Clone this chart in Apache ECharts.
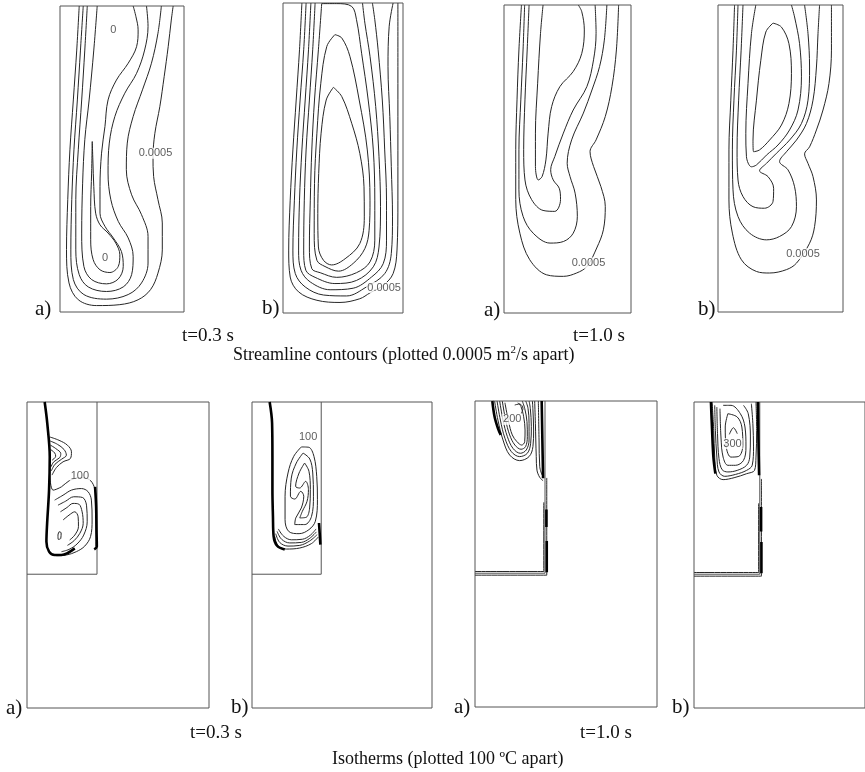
<!DOCTYPE html>
<html><head><meta charset="utf-8">
<script src="https://cdn.jsdelivr.net/npm/echarts/dist/echarts.min.js"></script>
<style>html,body{margin:0;padding:0;background:#fff}#c{width:865px;height:772px}</style>
</head><body><div id="c"></div>
<script>
// Coordinates: [x (mm from left wall), depth (mm from top)]
// ---------- Streamline contours ----------
const psiA03 = [
 [[6.2,0],[5.4,14.4],[4.3,30.7],[3.2,47.0],[2.5,63.3],[2.1,79.6],[2.9,90.5],[5.9,96.0],[11.8,97.9],[19.3,97.6],[25.2,96.0],[29.2,92.7],[31.6,87.3],[33.0,79.7],[33.0,70.9],[31.6,63.3],[30.2,55.7],[30.0,49.2],[30.6,41.6],[32.2,32.9],[33.6,23.1],[34.9,13.3],[35.9,4.6],[36.5,0]],
 [[7.5,0],[6.6,14.4],[5.6,30.7],[4.5,47.0],[3.8,63.3],[3.5,79.7],[4.3,89.4],[7.7,94.3],[15.0,95.8],[22.0,94.3],[26.3,90.5],[28.4,84.0],[28.4,75.3],[26.3,68.2],[23.1,61.7],[21.4,53.5],[21.7,44.8],[23.6,36.1],[26.6,27.4],[29.5,18.7],[31.6,8.9],[32.7,0]],
 [[8.8,0],[8.0,14.4],[7.0,30.7],[5.9,47.0],[5.1,63.3],[5.1,79.7],[6.2,87.8],[9.1,91.8],[15.0,93.3],[20.4,91.8],[23.1,87.8],[23.6,81.8],[22.0,75.8],[18.8,70.4],[16.4,63.3],[15.5,54.6],[15.9,44.8],[17.7,36.1],[20.9,28.5],[24.7,22.0],[27.3,14.4],[28.4,6.7],[27.9,0]],
 [[12.0,0],[10.9,14.4],[9.4,30.7],[8.0,43.7],[7.3,57.9],[7.0,74.2],[7.7,85.1],[10.2,89.4],[15.0,90.8],[18.8,89.2],[20.4,85.1],[19.8,80.2],[17.2,75.8],[14.5,72.0],[12.9,67.7],[12.9,59.0],[13.4,48.1],[14.5,39.4],[15.5,30.7],[18.2,24.2],[22.0,18.7],[24.7,13.3],[25.2,7.8],[24.5,3.5],[23.6,0]],
 [[10.4,44.3],[10.2,54.6],[9.9,65.5],[9.9,76.4],[10.7,82.9],[12.9,86.2],[16.1,87.1],[18.8,85.1],[19.3,81.3],[18.0,77.5],[15.5,74.2],[12.9,71.5],[11.5,67.7],[10.9,59.0],[10.6,50.3],[10.4,44.3]]
];
const psiA03Labels = [[30.8,48.1,'0.0005'],[17.2,7.8,'0'],[14.5,82.4,'0']];

const psiB03 = [
 [[6.3,0],[5.5,15.1],[4.4,31.3],[3.3,47.4],[2.4,63.6],[1.9,79.7],[2.4,88.4],[5.2,93.2],[11.3,95.9],[19.0,96.6],[25.6,95.4],[29.0,93.5],[33.4,91.1],[36.7,87.3],[38.0,79.7],[38.3,63.6],[38.3,42.0],[38.3,20.5],[38.3,0]],
 [[7.7,0],[6.9,15.1],[5.7,31.3],[4.6,47.4],[3.8,63.6],[3.3,79.7],[4.1,87.3],[7.4,91.6],[13.5,94.2],[21.2,94.5],[27.8,91.6],[33.9,87.3],[36.1,80.8],[36.5,69.0],[36.1,52.8],[35.6,36.6],[35.0,20.5],[35.4,7.5],[36.7,0]],
 [[9.3,0],[8.5,15.1],[7.4,31.3],[6.3,47.4],[5.5,63.6],[5.2,79.7],[6.0,86.2],[9.1,90.0],[15.7,92.5],[23.4,92.0],[29.5,88.4],[33.4,84.1],[34.5,76.5],[34.5,63.6],[33.9,47.4],[33.1,31.3],[31.7,15.1],[30.6,5.4],[29.8,0]],
 [[10.7,0],[9.9,15.1],[8.8,31.3],[7.7,47.4],[7.1,63.6],[6.9,79.7],[7.6,86.2],[10.7,88.5],[17.3,90.5],[24.5,89.5],[30.1,85.1],[32.0,78.7],[32.5,65.7],[32.0,49.6],[30.9,33.4],[29.0,17.2],[27.3,6.5],[26.5,0]],
 [[12.9,0.2],[11.8,15.1],[10.5,31.3],[9.6,47.4],[9.1,63.6],[8.8,78.7],[9.6,85.7],[12.4,87.0],[17.9,88.5],[24.5,87.0],[29.0,83.5],[30.6,76.5],[30.6,63.6],[30.1,47.4],[28.4,31.3],[26.2,16.2],[24.5,5.4],[22.9,1.1],[17.9,0.2],[12.9,0.2]],
 [[17.3,10.2],[14.6,14.0],[12.6,25.9],[11.3,42.0],[10.5,58.2],[10.4,74.4],[11.3,83.0],[14.0,85.0],[18.5,86.5],[23.4,84.0],[27.3,79.2],[28.7,73.3],[29.0,63.6],[28.1,47.4],[25.4,31.3],[22.3,17.2],[19.6,11.3],[17.3,10.2]],
 [[16.8,27.2],[14.4,31.3],[12.7,42.0],[11.9,55.0],[11.6,67.9],[11.8,78.7],[13.5,83.0],[16.2,84.5],[20.7,82.5],[25.6,77.6],[27.1,69.0],[27.0,59.3],[25.6,48.5],[22.9,38.8],[19.6,30.2],[16.8,27.2]]
];
const psiB03Labels = [[33.7,91.8,'0.0005']];

const psiA10 = [
 [[5.5,0],[4.7,14.6],[4.1,30.8],[3.7,47.0],[3.7,63.2],[5.0,74.1],[8.1,82.7],[13.4,87.6],[18.7,88.1],[22.9,87.0],[26.1,84.9],[29.2,78.9],[31.3,73.0],[31.9,65.4],[30.5,58.9],[28.2,52.4],[27.1,47.6],[29.0,43.8],[31.9,36.2],[34.0,26.5],[35.4,14.6],[36.1,0]],
 [[6.5,0],[6.0,14.6],[5.3,30.8],[4.7,47.0],[4.7,60.0],[6.0,68.6],[9.2,74.1],[14.5,77.3],[18.7,76.8],[21.8,74.1],[23.1,68.6],[22.4,61.1],[20.8,55.7],[19.9,51.4],[21.3,43.8],[25.0,35.1],[27.7,27.6],[30.1,20.0],[31.6,11.4],[32.4,0]],
 [[7.9,0],[7.3,14.6],[6.6,30.8],[6.2,47.0],[6.6,56.8],[8.7,63.2],[12.3,66.7],[16.0,67.0],[17.8,63.2],[17.4,59.5],[15.5,56.8],[14.7,53.5],[16.0,49.2],[18.7,41.6],[21.8,34.1],[26.1,26.5],[28.2,17.8],[29.0,9.2],[28.7,0]],
 [[12.3,0],[11.5,9.2],[10.6,25.4],[9.9,41.6],[9.9,52.4],[10.8,56.8],[12.0,55.7],[13.2,50.3],[13.9,41.6],[15.0,33.0],[17.6,26.5],[21.8,21.6],[24.5,15.7],[25.3,8.1],[24.5,2.2],[23.4,0]]
];
const psiA10Labels = [[26.6,83.8,'0.0005']];

const psiB10 = [
 [[5.3,0],[4.8,14.7],[4.1,31.0],[3.5,47.2],[3.5,63.5],[4.6,74.3],[7.5,83.0],[12.3,86.8],[16.5,87.3],[21.9,86.2],[25.1,84.1],[29.3,77.6],[30.9,72.2],[31.5,63.5],[30.4,55.9],[28.8,51.6],[27.7,48.5],[29.3,46.2],[31.5,40.7],[33.6,34.2],[35.5,25.6],[36.3,14.7],[36.3,0]],
 [[6.4,0],[5.9,14.7],[5.1,31.0],[4.6,47.2],[4.8,60.2],[6.4,68.9],[10.1,74.3],[15.5,76.5],[19.7,75.4],[23.5,72.2],[25.1,65.7],[24.5,59.2],[22.4,53.7],[19.7,51.0],[21.9,47.8],[25.1,44.0],[28.3,38.6],[30.4,31.0],[31.5,20.2],[32.0,9.3],[32.5,0]],
 [[8.0,0],[7.4,14.7],[6.6,31.0],[6.1,47.2],[6.4,57.0],[8.0,62.4],[11.2,65.7],[14.9,66.2],[17.6,64.0],[17.8,59.7],[16.0,55.9],[13.3,54.0],[15.5,51.6],[18.7,48.3],[22.9,44.0],[26.7,38.6],[28.8,31.0],[29.3,20.2],[28.8,9.3],[27.7,0]],
 [[12.1,0],[10.7,9.3],[9.6,25.6],[8.9,41.8],[9.1,49.4],[10.7,52.7],[12.3,52.1],[15.5,48.9],[19.2,45.6],[22.9,40.7],[25.6,34.2],[26.7,23.4],[26.1,12.6],[24.5,3.9],[23.5,0]],
 [[17.6,5.9],[15.3,8.8],[13.7,18.0],[12.3,31.0],[11.2,44.0],[11.4,47.8],[13.3,47.2],[16.5,44.0],[20.3,39.1],[22.7,32.1],[23.5,22.3],[22.7,12.6],[20.3,7.2],[17.6,5.9]]
];
const psiB10Labels = [[27.2,81.0,'0.0005']];

// ---------- Isotherms (mould 104 x 175 mm, casting cavity 40 mm wide) ----------
const cavityOutline = [[40,0],[40,98.5],[0,98.5]];

const isoA03 = [
 [[13.0,20.0],[18.3,21.9],[23.1,24.7],[25.4,28.5],[24.8,32.3],[20.6,34.2],[16.8,37.5],[14.3,41.8]],
 [[13.2,22.3],[17.4,24.2],[21.2,27.2],[22.5,30.4],[19.8,32.7],[16.0,35.6],[13.9,39.4]],
 [[13.4,24.7],[16.4,26.6],[19.3,29.5],[18.7,31.8],[15.3,34.2],[13.7,37.1]],
 [[13.5,27.2],[15.8,29.1],[16.4,31.0],[14.3,33.3]],
 [[13.0,42.0],[14.9,50.4],[19.7,48.5],[24.0,45.1],[30.2,43.2],[35.5,44.3],[38.4,48.5],[39.5,56.1],[39.5,69.4],[39.4,82.7]],
 [[15.8,56.1],[20.6,53.3],[25.4,50.4],[31.1,49.5],[34.9,51.3],[36.8,56.1],[37.2,67.5],[36.3,77.0],[33.0,82.4],[28.2,85.6],[22.5,87.5],[16.8,87.9]],
 [[17.7,59.0],[22.1,56.7],[26.7,54.2],[31.7,54.6],[34.0,59.0],[34.4,68.5],[32.4,76.1],[28.6,81.2],[24.0,84.3],[19.7,85.6]],
 [[19.1,62.8],[22.9,60.3],[26.3,58.0],[29.6,58.4],[31.5,62.8],[32.1,69.4],[30.2,75.1],[26.9,79.3],[23.1,82.0]],
 [[20.6,67.5],[24.0,64.7],[27.3,62.8],[29.2,65.6],[29.4,71.3],[27.3,76.1],[24.4,78.9]],
 [[18.3,74.2],[19.5,74.8],[19.3,78.0],[17.9,78.6],[17.7,76.1],[18.3,74.2]]
];
const isoA03Thick = [
 [[10.1,0],[11.6,12.4],[13.0,31.4],[12.6,50.4],[11.5,69.4],[11.1,79.9],[12.6,85.6],[15.8,87.5],[19.7,87.5],[23.5,86.2],[27.3,83.7]],
 [[38.9,48.5],[39.5,59.9],[39.7,73.2],[39.9,82.7],[38.4,84.3]]
];
const isoA03Labels = [[30.2,42.4,'100']];

const isoB03 = [
 [[28.5,25.7],[24.1,31.1],[20.8,40.6],[19.1,53.9],[19.1,67.3],[21.2,74.0],[27.2,75.3],[32.9,73.0],[36.6,68.2],[37.8,55.9],[37.4,42.5],[35.8,31.1],[32.8,25.9],[28.5,25.7]],
 [[29.5,29.2],[25.6,34.9],[22.7,43.5],[22.2,53.9],[24.7,55.5],[28.2,51.1],[29.9,53.9],[28.5,60.6],[25.3,66.3],[24.7,70.1],[30.5,70.1],[34.4,65.4],[35.5,53.9],[35.1,40.6],[33.4,32.6],[29.5,29.2]],
 [[30.4,34.9],[27.2,40.6],[25.2,48.2],[27.5,49.2],[31.0,45.4],[32.6,50.1],[31.8,56.8],[29.1,62.5],[27.6,66.3],[31.4,65.9],[33.3,60.6],[33.7,50.1],[32.9,39.6],[30.4,34.9]],
 [[13.1,76.8],[15.0,82.2],[19.8,84.1],[27.6,83.5],[34.3,81.0],[38.3,77.2]],
 [[13.7,75.3],[16.0,80.3],[20.8,82.4],[27.6,82.0],[33.3,79.5],[37.6,75.9]],
 [[14.5,74.0],[17.1,78.5],[21.8,80.6],[28.5,80.3],[33.3,78.0],[37.2,74.3]],
 [[15.2,72.6],[18.3,76.8],[22.7,78.8],[29.1,78.5],[33.7,76.2],[37.0,72.6]]
];
const isoB03Thick = [
 [[10.2,0],[11.6,12.0],[11.8,31.1],[11.8,50.1],[12.1,65.3],[12.5,76.8],[14.5,82.2],[18.9,84.4]],
 [[38.7,69.2],[39.1,74.9],[39.5,81.6]]
];
const isoB03Labels = [[32.4,20.0,'100']];

const isoA10 = [
 [[11.2,0],[13.1,10.9],[16.0,22.3],[19.8,30.9],[25.5,34.1],[30.9,31.8],[33.1,26.1],[33.5,16.6],[33.1,5.1],[32.8,0]],
 [[12.6,0],[14.5,10.9],[17.1,21.3],[20.8,29.0],[25.5,31.8],[29.9,29.9],[31.8,24.2],[32.2,14.7],[31.6,4.2],[30.9,0]],
 [[14.1,0],[16.0,10.9],[18.5,20.4],[21.7,27.1],[25.9,29.9],[29.3,28.0],[30.9,22.3],[30.9,12.8],[30.3,4.2],[29.0,0]],
 [[15.6,0],[17.5,10.9],[19.8,19.4],[22.8,25.2],[26.3,27.6],[28.9,26.1],[29.9,20.4],[29.7,11.8],[28.4,4.2],[27.0,0]],
 [[17.1,1.0],[19.2,11.8],[21.3,19.4],[24.0,23.3],[26.7,25.2],[28.4,23.3],[28.6,16.6],[27.8,9.0],[26.3,3.2],[24.6,1.0]],
 [[22.7,2.3],[25.5,1.7],[27.4,4.2],[26.5,7.1]],
 [[34.1,0],[34.5,12.8],[35.0,31.8],[35.4,39.5],[37.0,43.7],[38.9,45.6]],
 [[36.2,0],[36.6,22.3],[37.0,37.6],[38.3,42.3]],
 [[41.0,44],[41.0,99.6],[0,99.6]],
 [[39.3,58],[39.3,97.5],[0,97.5]]
];
const isoA10Thick = [
 [[9.9,0],[11.2,9.0],[13.1,15.6],[14.7,19.4]],
 [[38.1,0],[38.5,22.3],[38.9,44.2]],
 [[40.8,62],[40.8,72]],
 [[41.0,80],[41.0,98]]
];
const isoA10Labels = [[21.3,10.5,'200']];

const isoB10 = [
 [[11.0,0],[12.0,16.2],[12.6,31.5],[13.9,41.9],[17.7,44.4],[24.4,43.3],[32.0,41.0],[36.8,39.1],[37.7,31.5],[38.1,16.2],[37.7,0]],
 [[12.6,1.9],[13.0,16.2],[13.9,31.5],[15.2,40.0],[18.7,42.5],[25.3,41.4],[32.0,39.1],[35.4,36.2],[36.2,25.7],[35.8,12.4],[34.9,1.0]],
 [[13.9,2.9],[14.3,18.1],[15.2,32.4],[17.1,38.7],[20.6,40.0],[26.3,39.1],[32.0,36.2],[33.9,31.5],[34.3,20.0],[33.0,6.7],[30.1,1.9]],
 [[15.8,3.8],[16.4,20.0],[17.7,31.5],[20.6,36.2],[25.3,36.2],[30.1,33.4],[31.6,25.7],[31.0,14.3],[28.2,6.7],[22.5,1.9],[17.7,1.9]],
 [[20.6,6.7],[19.0,14.3],[19.6,25.7],[22.5,31.5],[27.2,31.1],[29.7,24.8],[29.1,14.3],[26.3,8.6],[20.6,6.7]],
 [[21.5,18.5],[24.0,14.7],[26.3,18.1]],
 [[41.0,44],[41.0,99.6],[0,99.6]],
 [[39.3,58],[39.3,97.5],[0,97.5]]
];
const isoB10Thick = [
 [[10.3,0],[11.0,16.2],[11.8,31.5],[13.0,41.0]],
 [[38.9,0],[39.2,21.9],[39.6,41.9]],
 [[40.8,60],[40.8,74]],
 [[41.0,80],[41.0,98]]
];
const isoB10Labels = [[23.4,23.8,'300']];

// ---------- captions ----------
const caseLabels = ['a)','b)','a)','b)'];
const timeLabels = ['t=0.3 s','t=1.0 s'];
const streamCaption = 'Streamline contours (plotted 0.0005 m{sup|2}/s apart)';
const isoCaption = 'Isotherms (plotted 100 ºC apart)';

// ---------- build chart ----------
const panels = [
 {grid:{left:60,top:6,width:124,height:306}, xMax:40, yMax:100, lines:psiA03, labels:psiA03Labels},
 {grid:{left:283,top:3,width:120,height:310}, xMax:40, yMax:100, lines:psiB03, labels:psiB03Labels},
 {grid:{left:504,top:5,width:127,height:308}, xMax:40, yMax:100, lines:psiA10, labels:psiA10Labels},
 {grid:{left:718,top:5,width:125,height:307}, xMax:40, yMax:100, lines:psiB10, labels:psiB10Labels},
 {grid:{left:27,top:402,width:182,height:306}, xMax:104, yMax:175, cavity:true, lines:isoA03, thick:isoA03Thick, labels:isoA03Labels},
 {grid:{left:252,top:402,width:180,height:306}, xMax:104, yMax:175, cavity:true, lines:isoB03, thick:isoB03Thick, labels:isoB03Labels},
 {grid:{left:475,top:401,width:182,height:306}, xMax:104, yMax:175, cavity:true, lines:isoA10, thick:isoA10Thick, labels:isoA10Labels},
 {grid:{left:694,top:402,width:182,height:306}, xMax:104, yMax:175, cavity:true, lines:isoB10, thick:isoB10Thick, labels:isoB10Labels}
];

const grids=[], xAxes=[], yAxes=[], series=[];
function lineSeries(i, data, w, color, smooth){
  return {type:'line', xAxisIndex:i, yAxisIndex:i, data, showSymbol:false, symbol:'none',
    smooth: smooth, silent:true, animation:false, clip:true,
    lineStyle:{color, width:w}, z:2};
}
panels.forEach((p,i)=>{
  grids.push(Object.assign({show:true, borderColor:'#555', borderWidth:1, backgroundColor:'#fff'}, p.grid));
  xAxes.push({type:'value', gridIndex:i, min:0, max:p.xMax, show:false});
  yAxes.push({type:'value', gridIndex:i, min:0, max:p.yMax, inverse:true, show:false});
  if (p.cavity) series.push(lineSeries(i, cavityOutline, 1, '#555', false));
  p.lines.forEach(d=>series.push(lineSeries(i, d, 1, '#262626', 0.35)));
  (p.thick||[]).forEach(d=>series.push(lineSeries(i, d, 2.6, '#000', 0.35)));
  if (p.labels) series.push({type:'scatter', xAxisIndex:i, yAxisIndex:i, data:p.labels, symbolSize:1,
    silent:true, animation:false, z:5, itemStyle:{color:'rgba(0,0,0,0)'},
    label:{show:true, position:'inside', formatter:q=>q.value[2], fontFamily:'Liberation Sans',
      fontSize:11, color:'#333', backgroundColor:'#fff', padding:[0,1]}});
});

const serif = 'Liberation Serif';
function cap(text, left, top, size){
  return {text, left, top, padding:0, textStyle:{fontFamily:serif, fontSize:size, fontWeight:'normal', color:'#111', lineHeight:size+2}};
}
const titles = [
 cap(caseLabels[0],35,298,21), cap(caseLabels[1],262,297,21), cap(caseLabels[2],484,299,21), cap(caseLabels[3],698,298,21),
 cap(timeLabels[0],182,326,19), cap(timeLabels[1],573,326,19),
 {text:streamCaption, left:233, top:345, padding:0,
  textStyle:{fontFamily:serif, fontSize:18, fontWeight:'normal', color:'#111', lineHeight:20,
   rich:{sup:{fontFamily:serif, fontSize:11, color:'#111', verticalAlign:'top', lineHeight:20, padding:[0,0,6,0]}}}},
 cap(caseLabels[0],6,697,21), cap(caseLabels[1],231,696,21), cap(caseLabels[2],454,696,21), cap(caseLabels[3],672,696,21),
 cap(timeLabels[0],190,723,19), cap(timeLabels[1],580,723,19),
 cap(isoCaption,332,749,18)
];

const chart = echarts.init(document.getElementById('c'), null, {renderer:'canvas'});
chart.setOption({backgroundColor:'#fff', animation:false, title:titles, grid:grids, xAxis:xAxes, yAxis:yAxes, series});
</script></body></html>
